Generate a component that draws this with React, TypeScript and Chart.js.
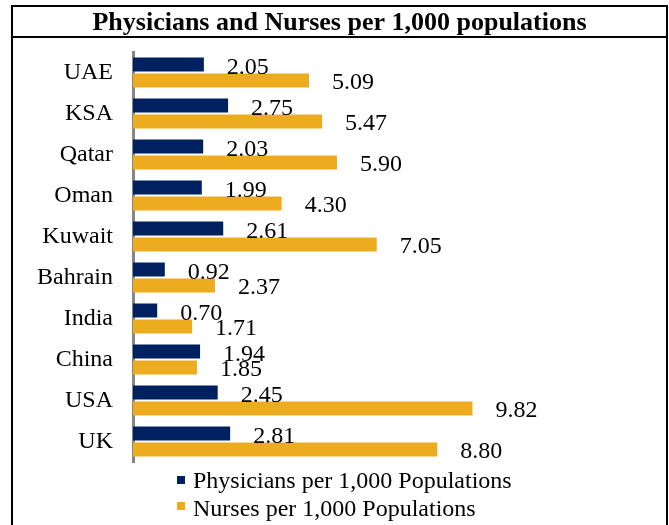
import React, { useEffect, useRef } from "react";
import { Chart, registerables } from "chart.js";

Chart.register(...registerables);

const categories = ["UAE", "KSA", "Qatar", "Oman", "Kuwait", "Bahrain", "India", "China", "USA", "UK"];
const physicians = [2.05, 2.75, 2.03, 1.99, 2.61, 0.92, 0.7, 1.94, 2.45, 2.81];
const nurses = [5.09, 5.47, 5.9, 4.3, 7.05, 2.37, 1.71, 1.85, 9.82, 8.8];
const seriesNames = ["Physicians per 1,000 Populations", "Nurses per 1,000 Populations"];
const seriesColors = ["#002060", "#EDAB20"];
const titleText = "Physicians and Nurses per 1,000 populations";

const SERIF = "'Liberation Serif', 'Times New Roman', serif";

const framePlugin = {
  id: "frame",
  beforeDraw(chart: any) {
    const ctx = chart.ctx;
    const w = chart.width;
    const h = chart.height;
    ctx.save();
    ctx.fillStyle = "#ffffff";
    ctx.fillRect(0, 0, w, h);
    ctx.strokeStyle = "#000000";
    ctx.lineWidth = 2;
    ctx.beginPath();
    ctx.moveTo(12, h);
    ctx.lineTo(12, 6);
    ctx.lineTo(667, 6);
    ctx.lineTo(667, h);
    ctx.moveTo(12, 37);
    ctx.lineTo(667, 37);
    ctx.stroke();
    ctx.fillStyle = "#000000";
    ctx.font = `bold 26px ${SERIF}`;
    ctx.textAlign = "center";
    ctx.textBaseline = "alphabetic";
    ctx.fillText(titleText, 339.5, 30);
    ctx.restore();
  },
};

const labelPlugin = {
  id: "valueLabels",
  afterDatasetsDraw(chart: any) {
    const ctx = chart.ctx;
    ctx.save();
    ctx.fillStyle = "#000000";
    ctx.font = `24px ${SERIF}`;
    ctx.textAlign = "left";
    ctx.textBaseline = "alphabetic";
    chart.data.datasets.forEach((ds: any, di: number) => {
      const meta = chart.getDatasetMeta(di);
      meta.data.forEach((el: any, i: number) => {
        const v = ds.data[i] as number;
        ctx.fillText(v.toFixed(2), el.x + 23, el.y + 9);
      });
    });
    ctx.restore();
  },
};

const legendPlugin = {
  id: "customLegend",
  afterDraw(chart: any) {
    const ctx = chart.ctx;
    ctx.save();
    ctx.font = `24px ${SERIF}`;
    ctx.textAlign = "left";
    ctx.textBaseline = "alphabetic";
    chart.data.datasets.forEach((ds: any, di: number) => {
      const cy = 480 + di * 26;
      ctx.fillStyle = ds.backgroundColor;
      ctx.fillRect(177, cy - 4, 8, 8);
      ctx.fillStyle = "#000000";
      ctx.fillText(ds.label, 193, 488 + di * 28);
    });
    ctx.restore();
  },
};

export default function App() {
  const ref = useRef<HTMLCanvasElement | null>(null);
  useEffect(() => {
    if (!ref.current) return;
    const chart = new Chart(ref.current, {
      type: "bar",
      data: {
        labels: categories,
        datasets: [
          { label: seriesNames[0], data: physicians, backgroundColor: seriesColors[0], borderWidth: 0 },
          { label: seriesNames[1], data: nurses, backgroundColor: seriesColors[1], borderWidth: 0 },
        ],
      },
      options: {
        indexAxis: "y",
        responsive: false,
        animation: false,
        maintainAspectRatio: false,
        layout: { padding: { top: 52, bottom: 63, left: 0, right: 52 } },
        datasets: {
          bar: { categoryPercentage: 0.78, barPercentage: 0.875 },
        },
        plugins: {
          legend: { display: false },
          title: { display: false },
          tooltip: { enabled: false },
        },
        scales: {
          x: { display: false, min: 0, max: 14 },
          y: {
            grid: { display: false, drawTicks: false },
            border: { display: true, color: "#868686", width: 3 },
            ticks: {
              color: "#000000",
              font: { family: SERIF, size: 24 },
              padding: 20,
            },
            afterFit(scale: any) {
              scale.width = 133;
            },
          },
        },
      },
      plugins: [framePlugin, labelPlugin, legendPlugin],
    });
    return () => chart.destroy();
  }, []);
  return (
    <div style={{ position: "absolute", left: 0, top: 0, width: 669, height: 525 }}>
      <canvas ref={ref} width={669} height={525} style={{ display: "block" }} />
    </div>
  );
}
